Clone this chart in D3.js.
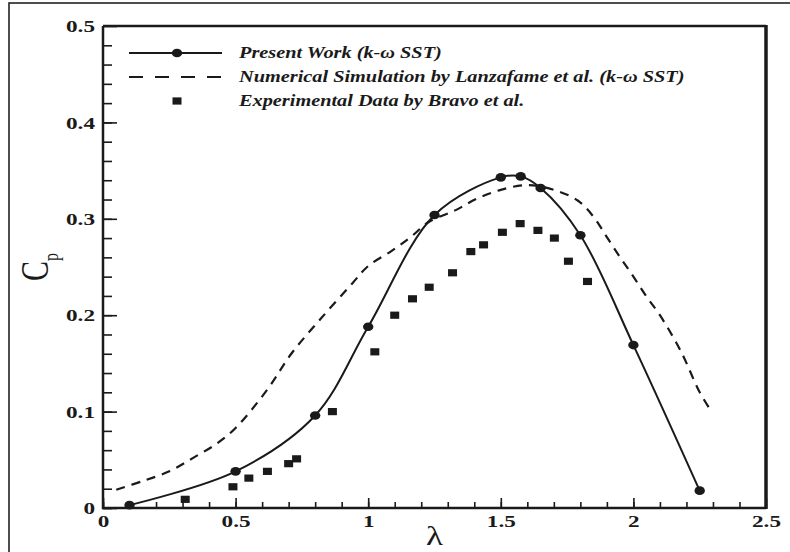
<!DOCTYPE html>
<meta charset="utf-8">
<style>

html,
body {
  margin: 0;
  overflow: hidden;
  background: #fff;
}

text {
  font-family: "Liberation Serif", "Times New Roman", serif;
  fill: #1a1a1a;
}

</style>
<body>
<script src="https://cdnjs.cloudflare.com/ajax/libs/d3/7.8.5/d3.min.js"></script>
<script>

var width = 790,
  height = 552;

// present work, k-omega SST
var presentLambda = [0.1, 0.5, 0.8, 1.0, 1.25, 1.5, 1.575, 1.65, 1.8, 2.0, 2.25];
var presentCp = [0.003, 0.038, 0.096, 0.188, 0.304, 0.343, 0.344, 0.332, 0.283, 0.169, 0.018];

// Lanzafame et al. numerical simulation
var lanzLambda = [0.05, 0.15, 0.25, 0.34, 0.43, 0.5, 0.62, 0.71, 0.82, 0.94, 1.0, 1.09, 1.16, 1.23, 1.33,
  1.41, 1.5, 1.6, 1.7, 1.79, 1.85, 1.9, 1.95, 2.0, 2.05, 2.1, 2.18, 2.25, 2.29];
var lanzCp = [0.019, 0.028, 0.038, 0.052, 0.067, 0.083, 0.123, 0.160, 0.196, 0.233, 0.251, 0.267, 0.281, 0.297, 0.309,
  0.321, 0.330, 0.335, 0.330, 0.319, 0.302, 0.281, 0.260, 0.240, 0.219, 0.200, 0.162, 0.120, 0.102];

// Bravo et al. experiments
var bravoLambda = [0.31, 0.49, 0.55, 0.62, 0.70, 0.73, 0.865, 1.025, 1.10, 1.167, 1.23, 1.318, 1.387, 1.435,
  1.506, 1.573, 1.64, 1.702, 1.755, 1.827];
var bravoCp = [0.009, 0.022, 0.031, 0.038, 0.046, 0.051, 0.100, 0.162, 0.200, 0.217, 0.229, 0.244, 0.266, 0.273,
  0.286, 0.295, 0.288, 0.280, 0.256, 0.235];

var xTicks = [0, 0.5, 1, 1.5, 2, 2.5];
var yTicks = [0, 0.1, 0.2, 0.3, 0.4, 0.5];
var xTickLabels = ["0", "0.5", "1", "1.5", "2", "2.5"];
var yTickLabels = ["0", "0.1", "0.2", "0.3", "0.4", "0.5"];

var legendLabels = [
  "Present Work (k-\u03c9 SST)",
  "Numerical Simulation by Lanzafame et al. (k-\u03c9 SST)",
  "Experimental Data by Bravo et al."
];

var plotLeft = 103, plotRight = 766, plotTop = 26, plotBottom = 508;
var stretch = 1.27; // the original figure is wider than tall

var svg = d3.select("body")
  .append("svg")
  .attr("width", width)
  .attr("height", height);

// outer frame of the figure
svg.append("rect")
  .attr("x", 9)
  .attr("y", 3)
  .attr("width", 820)
  .attr("height", 600)
  .attr("fill", "none")
  .attr("stroke", "#222")
  .attr("stroke-width", 1.6);

var x = d3.scaleLinear().domain([0, 2.5]).range([plotLeft, plotRight]);
var y = d3.scaleLinear().domain([0, 0.5]).range([plotBottom, plotTop]);

// minor ticks
svg.append("g")
  .attr("transform", "translate(0," + plotBottom + ")")
  .call(d3.axisBottom(x).tickValues(d3.range(0, 25).map(function(i) { return i / 10; }))
    .tickSize(-6).tickFormat(""))
  .call(function(g) { g.select(".domain").remove(); });

svg.append("g")
  .attr("transform", "translate(" + plotLeft + ",0)")
  .call(d3.axisLeft(y).tickValues(d3.range(0, 25).map(function(i) { return i / 50; }))
    .tickSize(-9).tickFormat(""))
  .call(function(g) { g.select(".domain").remove(); });

// major ticks and labels
var xAxis = svg.append("g")
  .attr("transform", "translate(0," + plotBottom + ")")
  .call(d3.axisBottom(x).tickValues(xTicks).tickSize(-10).tickPadding(8)
    .tickFormat(function(d, i) { return xTickLabels[i]; }));
xAxis.select(".domain").remove();

var yAxis = svg.append("g")
  .attr("transform", "translate(" + plotLeft + ",0)")
  .call(d3.axisLeft(y).tickValues(yTicks).tickSize(-14)
    .tickFormat(function(d, i) { return yTickLabels[i]; }));
yAxis.select(".domain").remove();

svg.selectAll(".tick line")
  .attr("stroke", "#1a1a1a")
  .attr("stroke-width", 1.6);

xAxis.selectAll("text")
  .attr("font-family", "Liberation Serif")
  .attr("font-weight", "bold")
  .attr("font-size", 16)
  .attr("fill", "#1a1a1a")
  .attr("transform", "scale(1.45,1)");

yAxis.selectAll("text")
  .attr("font-family", "Liberation Serif")
  .attr("font-weight", "bold")
  .attr("font-size", 16)
  .attr("fill", "#1a1a1a")
  .attr("x", -8 / 1.45)
  .attr("dy", "0.36em")
  .attr("transform", "scale(1.45,1)");

// plot box
svg.append("path")
  .attr("d", "M" + plotLeft + "," + plotTop + "H" + plotRight +
    "M" + plotLeft + "," + plotTop + "V" + plotBottom + "H" + plotRight)
  .attr("fill", "none")
  .attr("stroke", "#1a1a1a")
  .attr("stroke-width", 2.5);

svg.append("line")
  .attr("x1", plotRight).attr("x2", plotRight)
  .attr("y1", plotTop - 1).attr("y2", plotBottom + 1)
  .attr("stroke", "#1a1a1a")
  .attr("stroke-width", 3.5);

// curves
var lanzData = lanzLambda.map(function(d, i) { return [d, lanzCp[i]]; });
var presentData = presentLambda.map(function(d, i) { return [d, presentCp[i]]; });
var bravoData = bravoLambda.map(function(d, i) { return [d, bravoCp[i]]; });

var line = d3.line()
  .x(function(d) { return x(d[0]); })
  .y(function(d) { return y(d[1]); })
  .curve(d3.curveCatmullRom.alpha(0.5));

svg.append("path")
  .datum(lanzData)
  .attr("d", line)
  .attr("fill", "none")
  .attr("stroke", "#1a1a1a")
  .attr("stroke-width", 2.2)
  .attr("stroke-dasharray", "9,7");

svg.append("path")
  .datum(presentData)
  .attr("d", line)
  .attr("fill", "none")
  .attr("stroke", "#1a1a1a")
  .attr("stroke-width", 2);

svg.selectAll(".present")
  .data(presentData)
  .enter().append("ellipse")
  .attr("class", "present")
  .attr("cx", function(d) { return x(d[0]); })
  .attr("cy", function(d) { return y(d[1]); })
  .attr("rx", 5.2)
  .attr("ry", 4.3)
  .attr("fill", "#1a1a1a");

svg.selectAll(".bravo")
  .data(bravoData)
  .enter().append("rect")
  .attr("class", "bravo")
  .attr("x", function(d) { return x(d[0]) - 4.5; })
  .attr("y", function(d) { return y(d[1]) - 3.6; })
  .attr("width", 9)
  .attr("height", 7.2)
  .attr("fill", "#1a1a1a");

// legend
var legend = svg.append("g");
var legendY = [53, 77, 101];

legend.append("line")
  .attr("x1", 129).attr("x2", 222)
  .attr("y1", legendY[0]).attr("y2", legendY[0])
  .attr("stroke", "#1a1a1a").attr("stroke-width", 2);
legend.append("ellipse")
  .attr("cx", 177).attr("cy", legendY[0])
  .attr("rx", 5.2).attr("ry", 4.3)
  .attr("fill", "#1a1a1a");
legend.append("line")
  .attr("x1", 129).attr("x2", 222)
  .attr("y1", legendY[1]).attr("y2", legendY[1])
  .attr("stroke", "#1a1a1a").attr("stroke-width", 2)
  .attr("stroke-dasharray", "14,12");
legend.append("rect")
  .attr("x", 172.5).attr("y", legendY[2] - 3.6)
  .attr("width", 9).attr("height", 7.2)
  .attr("fill", "#1a1a1a");

legend.selectAll("text")
  .data(legendLabels)
  .enter().append("text")
  .attr("transform", function(d, i) {
    return "translate(239," + (legendY[i] + 4.5) + ") scale(" + stretch + ",1)";
  })
  .attr("font-size", 16)
  .attr("font-weight", "bold")
  .attr("font-style", "italic")
  .text(function(d) { return d; });

// axis titles
svg.append("text")
  .attr("transform", "translate(" + x(1.25) + ",545) scale(1.3,1)")
  .attr("text-anchor", "middle")
  .attr("font-size", 27)
  .text("\u03bb");

var cp = svg.append("text")
  .attr("transform", "translate(48," + y(0.25) + ") scale(1.3,1) rotate(-90)")
  .attr("text-anchor", "middle")
  .attr("font-size", 30);
cp.append("tspan").text("C");
cp.append("tspan").attr("font-size", 16).attr("dy", 8).text("p");

</script>
